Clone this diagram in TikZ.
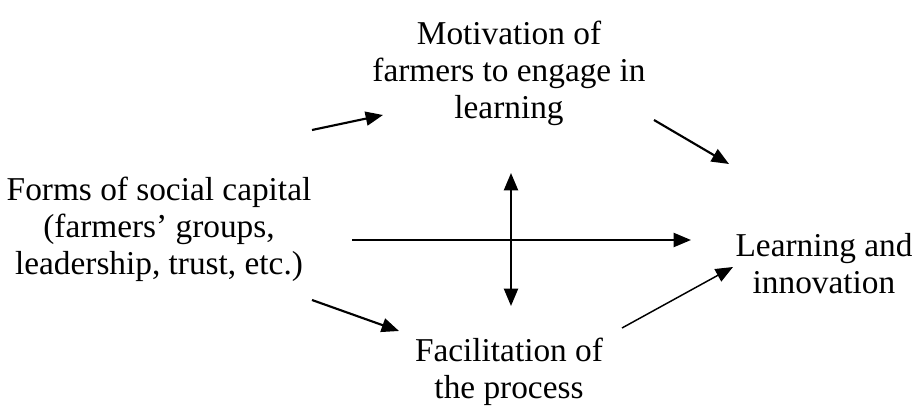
\documentclass[tikz,border=0pt]{standalone}
\usepackage{fontspec}
\setmainfont{Liberation Serif}
\usetikzlibrary{arrows.meta, positioning, calc}

\begin{document}
\begin{tikzpicture}[x=0.75pt, y=-0.75pt, >={Triangle[length=13pt, width=10.5pt]},
  lbl/.style={align=center, inner sep=0pt, font=\fontsize{25}{27.75}\selectfont},
  link/.style={->, line width=1.6pt}
]
  \useasboundingbox (0,0) rectangle (915,407);

  \node[lbl] (social) at (159,229)   {Forms of social capital\\(farmers' groups,\\leadership, trust, etc.)};
  \node[lbl] (motiv)  at (509,73)    {Motivation of\\farmers to engage in\\learning};
  \node[lbl] (learn)  at (824,263.5) {Learning and\\innovation};
  \node[lbl] (facil)  at (509,371.5) {Facilitation of\\the process};

  % arrow ends
  \coordinate (sm1) at (312,130); \coordinate (sm2) at (383,115);
  \coordinate (ml1) at (654,120); \coordinate (ml2) at (729,164);
  \coordinate (sl1) at (352,240); \coordinate (sl2) at (691,240);
  \coordinate (mf1) at (511,173); \coordinate (mf2) at (511,306);
  \coordinate (sf1) at (312,300); \coordinate (sf2) at (399,331);
  \coordinate (fl1) at (622,328); \coordinate (fl2) at (733,267);

  \draw[link] (sm1) -- (sm2);
  \draw[link] (ml1) -- (ml2);
  \draw[link] (sl1) -- (sl2);
  \draw[link, <->] (mf1) -- (mf2);
  \draw[link] (sf1) -- (sf2);
  \draw[link, line width=1.1pt] (fl1) -- (fl2);
\end{tikzpicture}
\end{document}
